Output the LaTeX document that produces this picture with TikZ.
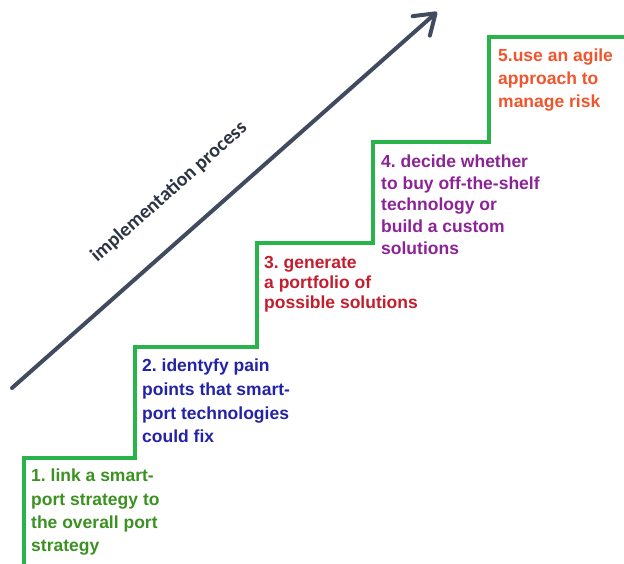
\documentclass[tikz,border=0pt]{standalone}
\usepackage{fontspec}
\setmainfont{Liberation Sans}
\newfontfamily\labelfont{Carlito}
\usetikzlibrary{arrows.meta}

\definecolor{stairgreen}{RGB}{40,180,75}
\definecolor{arrowslate}{RGB}{65,75,95}
\definecolor{stepone}{RGB}{60,145,35}
\definecolor{steptwo}{RGB}{35,35,165}
\definecolor{stepthree}{RGB}{195,30,45}
\definecolor{stepfour}{RGB}{140,35,150}
\definecolor{stepfive}{RGB}{240,85,45}

\tikzset{
  stair/.style={draw=stairgreen, line width=4pt, line join=miter},
  progress/.style={draw=arrowslate, line width=4pt, line cap=round,
    -{Straight Barb[length=19pt, width=26pt, round]}},
  progresslabel/.style={text=arrowslate!70!black, font=\labelfont\bfseries\fontsize{20}{24}\selectfont, inner sep=0pt},
  steptext/.style={anchor=north west, inner sep=0pt, align=left,
    font=\bfseries\fontsize{17.5}{#1}\selectfont},
}

\begin{document}
\frenchspacing
\begin{tikzpicture}[x=1pt, y=-1pt]
  \useasboundingbox (0,0) rectangle (624,563);
  \fill[white] (0,0) rectangle (624,563);

  % the staircase
  \draw[stair] (24,566) -- (24,458) -- (135,458) -- (135,347) -- (257,347)
    -- (257,243) -- (373,243) -- (373,142) -- (489,142) -- (489,37) -- (626,37);

  % rising arrow with its caption
  \coordinate (tail) at (12,388);
  \coordinate (head) at (437,12);
  \draw[progress] (tail) -- (head);
  \node[progresslabel, rotate=41.5] (caption) at (169,192) {implementation process};

  % one text per step
  \node[steptext=23.3, text=stepone] (s1) at (31,465.4)
    {\strut 1. link a smart-\\port strategy to\\the overall port\\strategy};
  \node[steptext=23.7, text=steptwo] (s2) at (142,355.1)
    {\strut 2. identyfy pain\\points that smart-\\port technologies\\could fix};
  \node[steptext=20, text=stepthree] (s3) at (264,254)
    {\strut 3. generate\\a portfolio of\\possible solutions};
  \node[steptext=21.7, text=stepfour] (s4) at (381,152.1)
    {\strut 4. decide whether\\to buy off-the-shelf\\technology or\\build a custom\\solutions};
  \node[steptext=22.8, text=stepfive] (s5) at (498,45.7)
    {\strut 5.use an agile\\approach to\\manage risk};
\end{tikzpicture}
\end{document}
